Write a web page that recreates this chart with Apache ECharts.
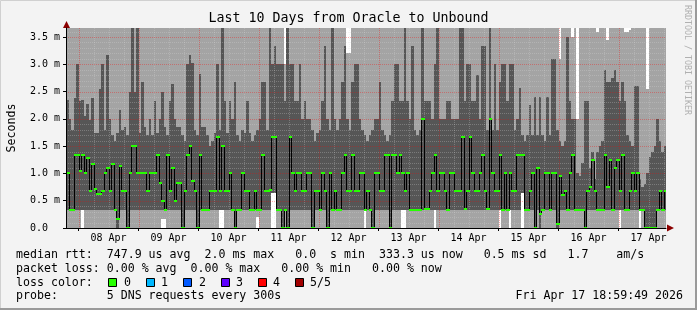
<!DOCTYPE html>
<html><head><meta charset="utf-8">
<script src="https://cdn.jsdelivr.net/npm/echarts@6/dist/echarts.min.js"></script>
<style>html,body{margin:0;padding:0;background:#f3f3f3}#c{width:697px;height:310px}</style>
</head><body><div id="c"></div>
<script>
// ---- data (hourly buckets, 7 Apr 19:00 -> 17 Apr 19:00), values in ms ----
const dayLabels = ['08 Apr','09 Apr','10 Apr','11 Apr','12 Apr','13 Apr','14 Apr','15 Apr','16 Apr','17 Apr'];
const dayLabelPos = [17,41,65,89,113,137,161,185,209,233];
const dayLinePos = [5,29,53,77,101,125,149,173,197,221];
const yTicks = [0,0.5,1,1.5,2,2.5,3,3.5];
const yTickLabels = ['0.0  ','0.5 m','1.0 m','1.5 m','2.0 m','2.5 m','3.0 m','3.5 m'];

// top of dark smoke (2nd highest ping)
const darkTop = [
 2.35,2.0,1.8,2.39,3.0,2.33,2.35,2.05,2.28,1.97,
 2.38,1.75,1.75,2.55,3.0,1.8,3.17,2.0,1.7,1.6,
 1.75,2.17,1.8,1.85,1.7,2.5,3.7,2.5,3.7,1.75,
 2.67,1.85,1.7,2.0,1.7,2.33,1.75,2.0,2.5,1.85,
 1.7,2.33,2.63,2.0,1.85,1.85,1.7,1.6,3.0,3.17,
 3.03,1.8,1.7,2.83,1.85,1.85,1.7,1.5,1.6,1.75,
 3.0,1.8,3.7,2.33,1.75,2.33,2.0,2.67,1.7,1.6,
 1.8,1.75,2.33,1.75,1.6,1.7,1.8,2.0,2.67,2.67,
 1.8,3.7,3.0,3.33,3.0,3.0,3.0,2.33,3.7,3.0,
 3.0,2.33,2.33,3.0,2.0,2.33,2.0,2.0,1.8,1.6,
 1.75,1.8,2.33,3.33,2.0,1.8,3.7,2.0,1.8,2.0,
 2.67,3.33,2.0,1.8,2.67,3.0,3.0,2.0,1.8,1.7,
 1.6,1.7,1.8,2.0,2.0,2.67,1.8,1.7,1.6,1.7,
 2.33,3.0,3.0,2.33,2.33,3.7,2.33,2.0,3.33,1.8,
 1.7,1.8,3.7,2.33,2.33,2.33,2.0,3.0,3.7,2.0,
 2.0,2.0,2.33,2.33,2.0,2.0,2.0,3.7,3.7,2.33,
 3.0,3.0,2.33,2.33,2.8,2.0,3.33,3.33,1.8,3.7,
 1.8,3.0,1.8,2.67,3.0,3.0,2.33,3.0,3.0,1.8,
 2.0,2.57,1.7,1.6,1.7,2.25,1.7,2.4,1.7,2.4,
 1.7,1.6,2.4,1.7,3.1,3.1,1.8,1.6,1.5,1.6,
 3.5,2.33,2.0,2.0,1.0,0.95,1.2,2.33,2.33,1.1,
 1.4,0.9,1.4,1.5,1.6,2.9,2.67,2.67,2.75,2.9,
 2.67,2.33,2.67,2.33,1.7,1.6,1.5,2.6,2.6,0.9,
 0.75,0.8,1.0,1.3,1.4,1.5,2.0,1.6,1.4,1.5
];
// bottom of dark smoke (2nd lowest ping)
const darkBottom = [
 .33,.33,.33,.33,.33,.33,.33,.33,.33,.33,
 .33,.33,.33,.33,.33,.33,.33,.33,.33,.33,
 0,.33,.33,.33,0,.33,.33,.33,.33,.33,
 .33,.33,.33,.33,.33,.33,.33,.33,.33,.33,
 .33,.33,.33,.33,.33,.33,0,.33,.33,.33,
 .33,.33,0,.33,.33,.33,.33,.33,.33,.33,
 .33,.33,.33,.33,.33,.33,.33,0,.33,.33,
 .33,.33,.33,.33,.33,.33,.33,.33,.33,.33,
 .33,.33,.65,.65,.33,.33,0,.33,0,.33,
 .33,.33,.33,.33,.33,.33,.33,.33,0,.33,
 .33,.33,.33,.33,0,.33,.33,.33,.33,.33,
 .33,.33,.33,.33,.33,.33,.33,.33,.33,.33,
 .33,.33,0,.33,.33,.33,.33,.33,.33,0,
 .33,.33,.33,.33,.33,.33,.33,.33,.33,.33,
 .33,.33,.33,.33,.33,.33,.33,.33,.33,.33,
 .33,.33,.33,.33,.33,.33,.33,.33,.33,.33,
 .33,.33,.33,.33,.33,.33,.33,.33,.33,.33,
 .33,.33,.33,.33,.33,.33,.33,.33,.33,.33,
 .33,.33,.65,.33,.33,.33,.33,0,.33,0,
 .33,.33,.33,.33,.33,.33,0,.33,.33,.33,
 .33,.33,.33,.33,.33,.33,.33,0,.33,.33,
 .33,.33,.33,.33,.33,.33,.33,.33,.33,.33,
 .33,.33,.33,.33,.33,.33,.33,.33,.33,.33,
 .33,0,0,0,0,0,.33,.33,.33,.33
];
// median rtt
const median = [
 1.0,0.33,0.33,1.33,1.33,1.05,1.33,1.0,1.29,0.67,
 1.18,0.72,0.62,0.62,0.67,1.0,1.1,0.67,1.18,0.33,
 0.17,1.13,0.67,0.67,0.0,1.0,1.5,1.5,1.0,1.0,
 1.0,1.0,0.67,1.0,1.0,1.0,1.33,0.83,0.5,0.33,
 1.33,0.67,1.1,0.5,0.83,0.83,0.0,0.67,1.33,1.5,
 0.87,0.67,0.0,1.33,0.33,0.33,0.33,0.67,0.67,0.67,
 1.67,0.67,1.5,0.67,0.67,1.0,0.33,0.0,0.33,0.33,
 1.0,0.67,0.67,0.33,0.33,0.67,0.33,0.33,1.33,0.67,
 0.67,0.7,1.67,1.67,0.33,0.33,0.0,0.33,0.0,1.67,
 1.0,0.67,1.0,1.0,0.67,0.67,1.0,1.0,0.0,0.67,
 0.67,0.33,1.0,0.67,0.0,1.0,0.33,0.67,0.33,0.33,
 1.0,1.33,0.67,0.67,1.33,0.67,0.67,1.0,1.0,0.33,
 0.67,0.33,0.0,1.0,1.0,0.67,0.67,1.33,1.33,0.0,
 1.33,1.33,1.0,1.33,1.0,0.67,1.0,0.33,0.33,0.33,
 0.33,0.33,2.0,0.35,0.35,0.67,1.0,1.33,0.67,1.0,
 1.0,0.67,0.33,1.0,1.0,0.67,0.67,0.67,1.67,0.35,
 0.67,1.67,1.0,0.67,0.67,1.0,1.33,0.67,0.35,2.0,
 1.0,0.67,0.67,1.33,0.33,1.0,0.33,1.0,0.67,0.67,
 1.33,1.33,1.33,0.33,0.33,0.67,1.0,0.0,1.1,0.25,
 0.33,1.0,1.0,0.33,1.0,1.0,0.07,0.95,0.6,0.67,
 0.33,1.0,1.33,0.33,0.33,0.33,0.33,0.0,0.67,0.75,
 1.25,0.67,0.33,0.33,0.33,1.33,0.75,1.25,0.33,1.1,
 1.25,0.67,1.33,0.33,0.33,0.67,1.0,0.67,1.0,0.33,
 0.33,0.0,0.0,0.0,0.0,0.0,0.33,0.67,0.33,0.67
];
// buckets whose lowest ping is above 0 (white at bottom): [bucket, min ping]
const minPing = [[6,0.33],[38,0.17],[39,0.17],[61,0.33],[62,0.33],[76,0.2],[82,0.65],[83,0.65],[119,0.33],[134,0.33],[135,0.33],[147,0.33],[173,0.33],[177,0.33],[182,0.65],[221,0.33],[229,0.33]];
// buckets whose highest ping is below the top of the graph: [bucket, max ping]
const maxPing = [[87,3.0],[112,3.2],[113,3.2],[197,3.1],[202,3.5],[204,2.0],[212,3.6],[216,3.45],[223,3.6],[224,3.6],[225,3.62],[232,2.55]];

const LIGHT = '#a4a4a4', DARK = '#565656', GREEN = '#26ff00';
const FONT = 'DejaVu Sans Mono';

const N = darkTop.length;
const lo = new Array(N).fill(0); minPing.forEach(([i,v]) => lo[i] = v);
const hi = new Array(N).fill(9); maxPing.forEach(([i,v]) => hi[i] = v);
const smokeData = [], medData = [];
for (let i = 0; i < N; i++) {
  smokeData.push([i, lo[i], darkBottom[i], darkTop[i], hi[i]]);
  medData.push([i, median[i], i + 1 < N ? median[i + 1] : median[i]]);
}
// grid line specs: [orientation, value, major]
const gridData = [];
for (let h = 5; h < N; h += 6) gridData.push([0, h, dayLinePos.indexOf(h) >= 0 ? 1 : 0]);
for (let k = 1; k <= 36; k++) { const v = k / 10; gridData.push([1, v, (k % 5 === 0) ? 1 : 0]); }

const chart = echarts.init(document.getElementById('c'), null, {renderer: 'canvas', width: 697, height: 310});

function bx(api, i) { return Math.round(api.coord([i, 0])[0]); }

const option = {
  backgroundColor: '#f3f3f3',
  animation: false,
  grid: {left: 66, top: 28, width: 600, height: 200, show: true, backgroundColor: '#ffffff', borderWidth: 0},
  xAxis: {
    type: 'value', min: 0, max: 240, z: 10,
    axisLine: {show: true, lineStyle: {color: '#000', width: 1}},
    axisTick: {show: true, length: 3, customValues: dayLinePos, lineStyle: {color: '#000'}},
    axisLabel: {customValues: dayLabelPos, margin: 5, fontFamily: FONT, fontSize: 10, color: '#000',
      formatter: v => dayLabels[dayLabelPos.indexOf(v)] || ''},
    splitLine: {show: false}
  },
  yAxis: {
    type: 'value', min: 0, max: 3.665, z: 10,
    axisLine: {show: true, lineStyle: {color: '#000', width: 1}},
    axisTick: {show: true, length: 3, customValues: yTicks, lineStyle: {color: '#000'}},
    axisLabel: {customValues: yTicks, margin: 6, fontFamily: FONT, fontSize: 10, color: '#000',
      formatter: v => { const k = yTicks.findIndex(t => Math.abs(t - v) < 1e-6); return k >= 0 ? yTickLabels[k] : ''; }},
    splitLine: {show: false}
  },
  series: [
    {type: 'custom', z: 1, clip: true, data: smokeData, silent: true,
      renderItem: (params, api) => {
        const i = api.value(0);
        const x0 = bx(api, i), x1 = bx(api, i + 1);
        const Y = v => Math.round(api.coord([i, v])[1]);
        const lt = Y(api.value(4)), lb = Y(api.value(1));
        const dt = Y(api.value(3)), db = Y(api.value(2));
        return {type: 'group', children: [
          {type: 'rect', shape: {x: x0, y: lt, width: x1 - x0, height: lb - lt}, style: {fill: LIGHT}},
          {type: 'rect', shape: {x: x0, y: dt, width: x1 - x0, height: db - dt}, style: {fill: DARK}}
        ]};
      }},
    {type: 'custom', z: 2, clip: true, data: gridData, silent: true,
      renderItem: (params, api) => {
        const cs = params.coordSys;
        const major = api.value(2) === 1;
        const col = major ? 'rgba(255,0,0,0.32)' : 'rgba(220,220,220,0.28)';
        if (api.value(0) === 0) {
          const x = Math.round(api.coord([api.value(1), 0])[0]) + 0.5;
          return {type: 'line', shape: {x1: x, y1: cs.y, x2: x, y2: cs.y + cs.height},
            style: {stroke: col, lineWidth: 1, lineDash: [1, 1]}};
        } else {
          const y = Math.round(api.coord([0, api.value(1)])[1]) + 0.5;
          return {type: 'line', shape: {x1: cs.x, y1: y, x2: cs.x + cs.width, y2: y},
            style: {stroke: col, lineWidth: 1, lineDash: [1, 1]}};
        }
      }},
    {type: 'custom', z: 3, clip: true, data: medData, silent: true,
      renderItem: (params, api) => {
        const i = api.value(0);
        const x1 = bx(api, i + 1);
        const y = Math.round(api.coord([i, api.value(1)])[1]);
        const yn = Math.round(api.coord([i, api.value(2)])[1]);
        if (y === yn) return {type: 'group', children: []};
        return {type: 'line', shape: {x1: x1 + 0.5, y1: y, x2: x1 + 0.5, y2: yn}, style: {stroke: '#000', lineWidth: 1}};
      }},
    {type: 'custom', z: 4, clip: true, data: medData, silent: true,
      renderItem: (params, api) => {
        const i = api.value(0);
        const x0 = bx(api, i), x1 = bx(api, i + 1);
        const y = Math.round(api.coord([i, api.value(1)])[1]);
        return {type: 'rect', shape: {x: x0, y: y - 1, width: x1 - x0 + 1, height: 2}, style: {fill: GREEN}};
      }}
  ],
  graphic: [
    {type: 'rect', shape: {x: 0.5, y: 0.5, width: 695, height: 308}, style: {fill: 'none', stroke: '#d0d0d0', lineWidth: 1}, silent: true},
    {type: 'line', shape: {x1: 696, y1: 0, x2: 696, y2: 310}, style: {stroke: '#9a9a9a', lineWidth: 2}, silent: true},
    {type: 'line', shape: {x1: 0, y1: 309, x2: 697, y2: 309}, style: {stroke: '#9a9a9a', lineWidth: 2}, silent: true},
    {type: 'polygon', shape: {points: [[63, 28], [70, 28], [66.5, 21]]}, style: {fill: '#8b0000'}, silent: true},
    {type: 'polygon', shape: {points: [[667, 224.5], [667, 231.5], [674, 228]]}, style: {fill: '#8b0000'}, silent: true},
    {type: 'text', x: 348.5, y: 19, style: {text: 'Last 10 Days from Oracle to Unbound', font: '13.3px "DejaVu Sans Mono"', fill: '#000', align: 'center', verticalAlign: 'middle'}},
    {type: 'text', x: 11.5, y: 128, rotation: Math.PI / 2, style: {text: 'Seconds', font: '11.6px "DejaVu Sans Mono"', fill: '#000', align: 'center', verticalAlign: 'middle'}},
    {type: 'text', x: 687.5, y: 60, rotation: -Math.PI / 2, style: {text: 'RRDTOOL / TOBI OETIKER', font: '8.3px "DejaVu Sans Mono"', fill: '#b0b0b0', align: 'center', verticalAlign: 'middle'}},
    {type: 'text', x: 16, y: 255, style: {text: 'median rtt:  747.9 us avg  2.0 ms max   0.0  s min  333.3 us now   0.5 ms sd   1.7    am/s', font: '11.6px "DejaVu Sans Mono"', fill: '#000', verticalAlign: 'middle'}},
    {type: 'text', x: 16, y: 268.5, style: {text: 'packet loss: 0.00 % avg  0.00 % max   0.00 % min   0.00 % now', font: '11.6px "DejaVu Sans Mono"', fill: '#000', verticalAlign: 'middle'}},
    {type: 'text', x: 16, y: 282.5, style: {text: 'loss color:', font: '11.6px "DejaVu Sans Mono"', fill: '#000', verticalAlign: 'middle'}},
    {type: 'rect', shape: {x: 108.5, y: 278.5, width: 8, height: 8}, style: {fill: '#26ff00', stroke: '#000', lineWidth: 1}},
    {type: 'text', x: 124, y: 282.5, style: {text: '0', font: '11.6px "DejaVu Sans Mono"', fill: '#000', verticalAlign: 'middle'}},
    {type: 'rect', shape: {x: 146.5, y: 278.5, width: 8, height: 8}, style: {fill: '#00b8ff', stroke: '#000', lineWidth: 1}},
    {type: 'text', x: 161, y: 282.5, style: {text: '1', font: '11.6px "DejaVu Sans Mono"', fill: '#000', verticalAlign: 'middle'}},
    {type: 'rect', shape: {x: 183.5, y: 278.5, width: 8, height: 8}, style: {fill: '#0059ff', stroke: '#000', lineWidth: 1}},
    {type: 'text', x: 199, y: 282.5, style: {text: '2', font: '11.6px "DejaVu Sans Mono"', fill: '#000', verticalAlign: 'middle'}},
    {type: 'rect', shape: {x: 221.5, y: 278.5, width: 8, height: 8}, style: {fill: '#5e00ff', stroke: '#000', lineWidth: 1}},
    {type: 'text', x: 236, y: 282.5, style: {text: '3', font: '11.6px "DejaVu Sans Mono"', fill: '#000', verticalAlign: 'middle'}},
    {type: 'rect', shape: {x: 258.5, y: 278.5, width: 8, height: 8}, style: {fill: '#ff0000', stroke: '#000', lineWidth: 1}},
    {type: 'text', x: 273, y: 282.5, style: {text: '4', font: '11.6px "DejaVu Sans Mono"', fill: '#000', verticalAlign: 'middle'}},
    {type: 'rect', shape: {x: 295.5, y: 278.5, width: 8, height: 8}, style: {fill: '#a10000', stroke: '#000', lineWidth: 1}},
    {type: 'text', x: 310, y: 282.5, style: {text: '5/5', font: '11.6px "DejaVu Sans Mono"', fill: '#000', verticalAlign: 'middle'}},
    {type: 'text', x: 16, y: 296, style: {text: 'probe:       5 DNS requests every 300s', font: '11.6px "DejaVu Sans Mono"', fill: '#000', verticalAlign: 'middle'}},
    {type: 'text', x: 683, y: 296, style: {text: 'Fri Apr 17 18:59:49 2026', font: '11.6px "DejaVu Sans Mono"', fill: '#000', align: 'right', verticalAlign: 'middle'}}
  ]
};
chart.setOption(option);
</script>
</body></html>
